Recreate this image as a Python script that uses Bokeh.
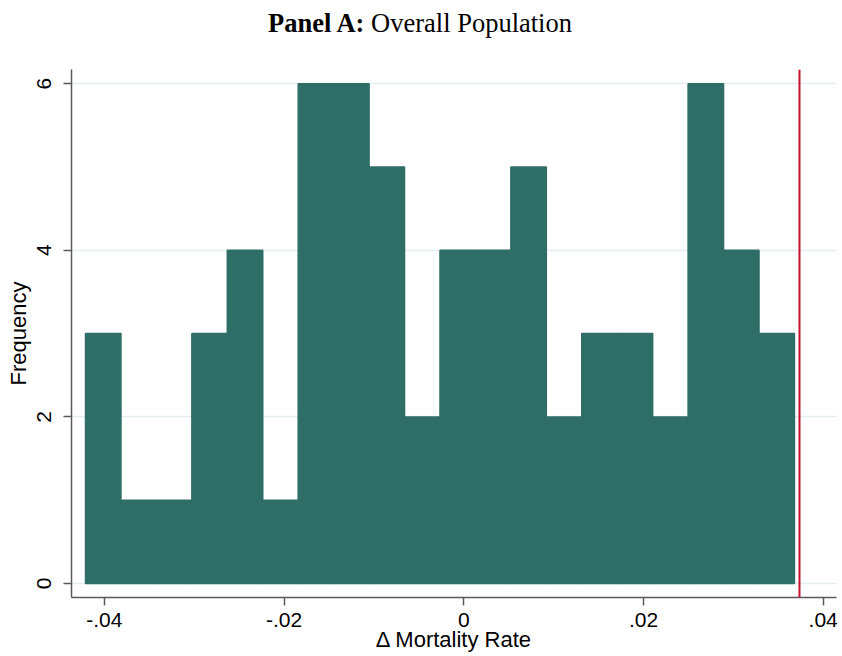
from bokeh.plotting import figure
from bokeh.models import Range1d, FixedTicker, Span, Div
from bokeh.layouts import column
from bokeh.embed import file_html
from bokeh.resources import INLINE

# ---- data ----
bin_start = -0.04210
bin_width = 0.003945
counts = [3, 1, 1, 3, 4, 1, 6, 6, 5, 2, 4, 4, 5, 2, 3, 3, 2, 6, 4, 3]
reference_value = 0.03736
x_ticks = [-0.04, -0.02, 0.0, 0.02, 0.04]
x_tick_labels = ["-.04", "-.02", "0", ".02", ".04"]
y_ticks = [0, 2, 4, 6]
title_bold = "Panel A:"
title_rest = "Overall Population"
x_title = "\u0394 Mortality Rate"
y_title = "Frequency"

lefts = [bin_start + i * bin_width for i in range(len(counts))]
rights = [l + bin_width for l in lefts]

BAR = "#2E6E66"
AXIS = "#5A5A5A"
TITLE_H = 46

title = Div(text=f"<b>{title_bold}</b> {title_rest}", width=840, height=TITLE_H, margin=0,
            styles={"font-family": "'Liberation Serif', 'Times New Roman', serif",
                    "font-size": "26.5px", "line-height": f"{TITLE_H}px",
                    "text-align": "center", "color": "black", "width": "840px"})

p = figure(width=840, height=654 - TITLE_H, output_backend="svg", toolbar_location=None,
           x_range=Range1d(-0.04366, 0.04148), y_range=Range1d(-0.168, 6.17),
           min_border_left=71, min_border_right=4, min_border_top=69 - TITLE_H,
           min_border_bottom=57)
p.title = None
p.outline_line_color = None
p.background_fill_color = "white"
p.border_fill_color = "white"

p.quad(left=lefts, right=rights, bottom=0, top=counts,
       fill_color=BAR, line_color=BAR, line_width=1.5)

p.add_layout(Span(location=reference_value, dimension="height",
                  line_color="#C8102E", line_width=2))

for ax in (p.xaxis[0], p.yaxis[0]):
    ax.axis_line_color = AXIS
    ax.axis_line_width = 1.5
    ax.major_tick_line_color = AXIS
    ax.major_tick_line_width = 1.5
    ax.major_tick_out = 8
    ax.major_tick_in = 0
    ax.minor_tick_line_color = None
    ax.major_label_text_font = "Liberation Sans"
    ax.major_label_text_font_size = "21px"
    ax.major_label_text_color = "black"
    ax.axis_label_text_font = "Liberation Sans"
    ax.axis_label_text_font_size = "22px"
    ax.axis_label_text_font_style = "normal"
    ax.axis_label_text_color = "black"

p.xaxis.ticker = FixedTicker(ticks=x_ticks)
p.xaxis.major_label_overrides = {t: s for t, s in zip(x_ticks, x_tick_labels)}
p.xaxis.major_label_standoff = 7
p.xaxis.axis_label = x_title
p.xaxis.axis_label_standoff = -3

p.yaxis.ticker = FixedTicker(ticks=y_ticks)
p.yaxis.major_label_orientation = "vertical"
p.yaxis.major_label_standoff = 12
p.yaxis.axis_label = y_title
p.yaxis.axis_label_standoff = 4

p.xgrid.visible = False
p.ygrid.ticker = FixedTicker(ticks=y_ticks)
p.ygrid.grid_line_color = "#E3EDF1"
p.ygrid.grid_line_width = 1.5

layout = column(title, p, spacing=0)
open("out.html", "w").write(file_html(layout, INLINE))
